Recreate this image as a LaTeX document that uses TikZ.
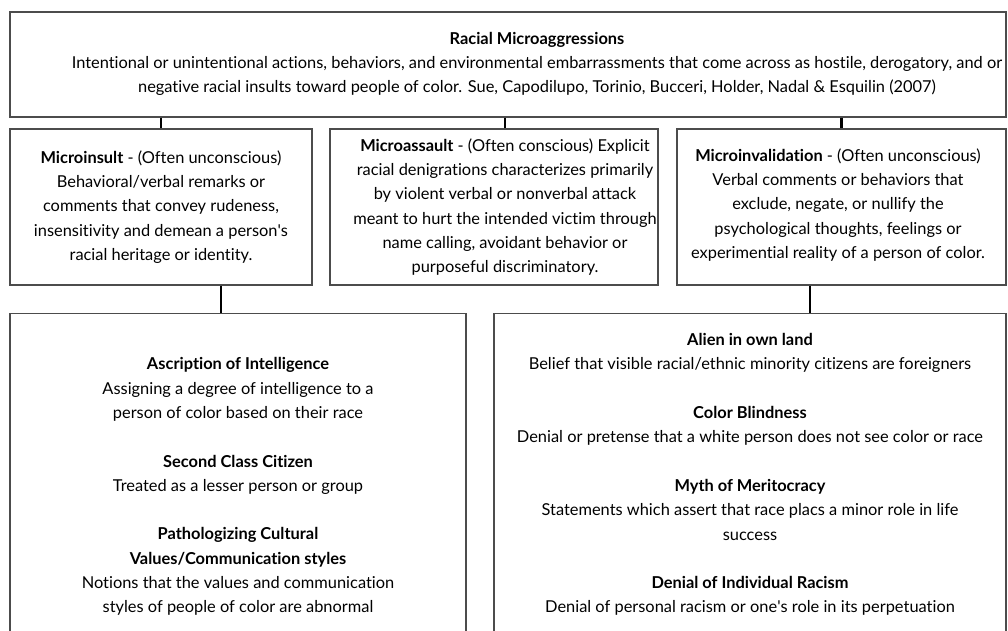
\documentclass[tikz,border=0pt]{standalone}
\usepackage{fontspec}
\setmainfont{Lato}[Ligatures=NoCommon]
\usetikzlibrary{positioning}

\begin{document}
\begin{tikzpicture}[x=1pt, y=-1pt,
  every node/.style={inner sep=0pt, align=center, font=\fontsize{16.4}{24.3}\selectfont},
  box/.style={rectangle, draw=black!70, line width=1.3pt},
  link/.style={line width=2.4pt}]
	\useasboundingbox (0,0) rectangle (1008,631);
	\clip (0,0) rectangle (1008,631);
	%Top
	\node [box, minimum width=996, minimum height=105] (racial) at (508,64.5) {};
	\node (racialtext) at (537,64) {\textbf{Racial Microaggressions}\\
		Intentional or unintentional actions, behaviors, and environmental embarrassments that come across as hostile, derogatory, and or\\
		negative racial insults toward people of color. Sue, Capodilupo, Torinio, Bucceri, Holder, Nadal \& Esquilin (2007)};
	%Types
	\node [box, minimum width=302, minimum height=156] (insult) at (161,207) {\textbf{Microinsult} - (Often unconscious)\\
		Behavioral/verbal remarks or\\ comments that convey rudeness,\\ insensitivity and demean a person\textquotesingle s\\ racial heritage or identity.};
	\node [box, minimum width=328, minimum height=156] (assault) at (494,207) {};
	\node (assaulttext) at (505,207) {\textbf{Microassault} - (Often conscious) Explicit\\
		racial denigrations characterizes primarily\\ by violent verbal or nonverbal attack\\ meant to hurt the intended victim through\\
		name calling, avoidant behavior or\\ purposeful discriminatory.};
	\node [box, minimum width=329, minimum height=156] (invalid) at (841.5,207) {};
	\node (invalidtext) at (838,205) {\textbf{Microinvalidation} - (Often unconscious)\\
		Verbal comments or behaviors that\\ exclude, negate, or nullify the\\ psychological thoughts, feelings or\\
		experimential reality of a person of color.};
	\draw [link] (racial.south -| insult.north) -- (insult.north);
	\draw [link] (racial.south -| assaulttext) -- (assault.north -| assaulttext);
	\draw [link] (racial.south -| invalid.north) -- (invalid.north);
	%Examples
	\node [box, minimum width=456, minimum height=346, anchor=north] (insultex) at (238,313) {\textbf{Ascription of Intelligence}\\
		Assigning a degree of intelligence to a\\ person of color based on their race\\[24.3pt]
		\textbf{Second Class Citizen}\\ Treated as a lesser person or group\\[24.3pt]
		\textbf{Pathologizing Cultural}\\ \textbf{Values/Communication styles}\\
		Notions that the values and communication\\ styles of people of color are abnormal};
	\node [box, minimum width=512, minimum height=322, anchor=north] (invalidex) at (750,313) {\textbf{Alien in own land}\\
		Belief that visible racial/ethnic minority citizens are foreigners\\[24.3pt]
		\textbf{Color Blindness}\\ Denial or pretense that a white person does not see color or race\\[24.3pt]
		\textbf{Myth of Meritocracy}\\ Statements which assert that race placs a minor role in life\\ success\\[24.3pt]
		\textbf{Denial of Individual Racism}\\ Denial of personal racism or one\textquotesingle s role in its perpetuation};
	\draw [link] ([xshift=60]insult.south) -- ([xshift=60]insult.south |- insultex.north);
	\draw [link] ([xshift=-31.5]invalid.south) -- ([xshift=-31.5]invalid.south |- invalidex.north);
\end{tikzpicture}
\end{document}
